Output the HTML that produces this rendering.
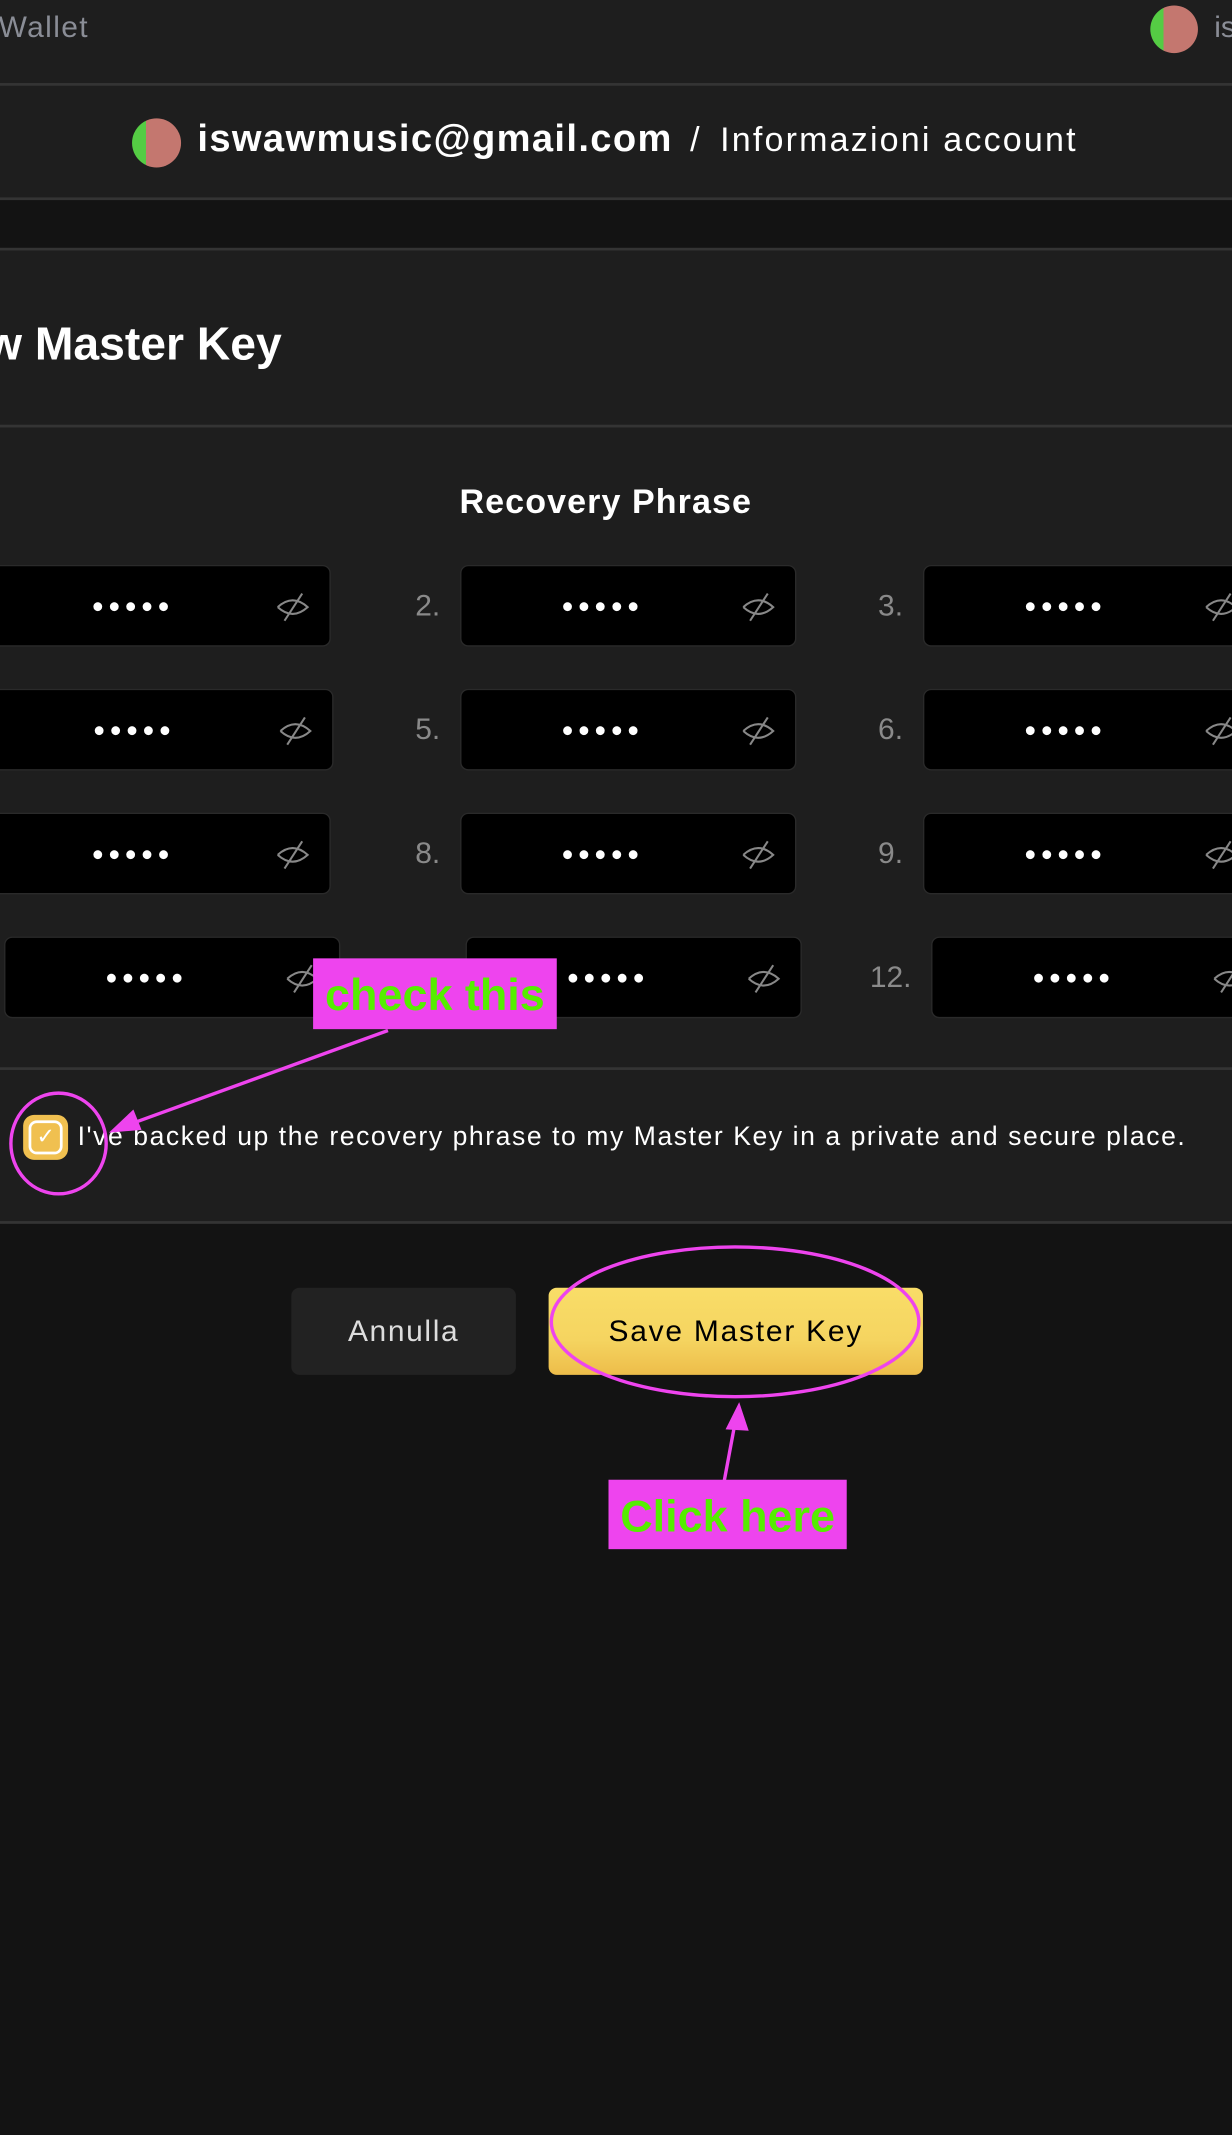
<!DOCTYPE html>
<html><head><meta charset="utf-8"><style>
html,body{margin:0;padding:0;width:1232px;height:2134px;overflow:hidden;background:#131313;font-family:"Liberation Sans",sans-serif}
#w{position:absolute;left:0;top:0;width:905px;height:1568px;transform:scale(1.3613);transform-origin:0 0;background:#131313;overflow:hidden}
.a{position:absolute}
.ln{position:absolute;left:0;width:905px;height:2px;background:#343434}
.box{position:absolute;height:60px;background:#000;border:1px solid #2a2a2a;border-radius:6px;box-sizing:border-box}
.dots{position:absolute;top:0;left:0;width:100%;padding-right:38px;box-sizing:border-box;line-height:60px;text-align:center;color:#fff;font-size:15px;letter-spacing:3px}
.eye{position:absolute;top:18px;right:14px}
.num{position:absolute;color:#8a8a8a;font-size:22px}
.av{position:absolute;border-radius:50%;background:linear-gradient(90deg,#55cc44 0 28%,#c4776f 28%)}
</style></head><body><div id="w">
<div class="a" style="left:0;top:0;width:905px;height:146px;background:#1e1e1e"></div>
<div class="a" style="left:0;top:184px;width:905px;height:601px;background:#1e1e1e"></div>
<div class="a" style="left:0;top:786px;width:905px;height:112px;background:#1e1e1e"></div>
<div class="ln" style="top:61px"></div><div class="ln" style="top:145px"></div><div class="ln" style="top:182px"></div><div class="ln" style="top:312px"></div><div class="ln" style="top:784px"></div><div class="ln" style="top:897px"></div>
<div class="a" style="left:-1px;top:7px;font-size:22px;color:#8a8d96;letter-spacing:1px">Wallet</div>
<div class="av" style="left:845px;top:4px;width:35px;height:35px"></div>
<div class="a" style="left:892px;top:7px;font-size:22px;color:#8a8d96">is</div>
<div class="av" style="left:97px;top:87px;width:36px;height:36px"></div>
<div class="a" style="left:145px;top:86px;font-size:28px;font-weight:bold;color:#fff;white-space:nowrap;letter-spacing:1px">iswawmusic@gmail.com</div>
<div class="a" style="left:507px;top:89px;font-size:25px;color:#fff;white-space:nowrap">/</div>
<div class="a" style="left:529px;top:89px;font-size:25px;color:#fff;white-space:nowrap;letter-spacing:1.6px">Informazioni account</div>
<div class="a" style="right:698px;top:234px;font-size:34px;font-weight:bold;color:#fff;white-space:nowrap">New Master Key</div>
<div class="a" style="left:0;width:890px;text-align:center;top:355px;font-size:25px;font-weight:bold;color:#fff;letter-spacing:0.8px">Recovery Phrase</div>

<svg width="0" height="0" style="position:absolute"><defs><g id="e"><path d="M2 12 Q13 2 24 12 Q13 22 2 12" fill="none" stroke="#888" stroke-width="1.5"/><line x1="7" y1="22" x2="20" y2="2" stroke="#888" stroke-width="1.5"/></g></defs></svg>

<div class="box" style="left:-10px;top:415px;width:253px"><div class="dots">●●●●●</div><svg class="eye" width="26" height="24"><use href="#e"/></svg></div>
<div class="num" style="left:305px;top:432px">2.</div>
<div class="box" style="left:338px;top:415px;width:247px"><div class="dots">●●●●●</div><svg class="eye" width="26" height="24"><use href="#e"/></svg></div>
<div class="num" style="left:645px;top:432px">3.</div>
<div class="box" style="left:678px;top:415px;width:247px"><div class="dots">●●●●●</div><svg class="eye" width="26" height="24"><use href="#e"/></svg></div>

<div class="box" style="left:-10px;top:506px;width:255px"><div class="dots">●●●●●</div><svg class="eye" width="26" height="24"><use href="#e"/></svg></div>
<div class="num" style="left:305px;top:523px">5.</div>
<div class="box" style="left:338px;top:506px;width:247px"><div class="dots">●●●●●</div><svg class="eye" width="26" height="24"><use href="#e"/></svg></div>
<div class="num" style="left:645px;top:523px">6.</div>
<div class="box" style="left:678px;top:506px;width:247px"><div class="dots">●●●●●</div><svg class="eye" width="26" height="24"><use href="#e"/></svg></div>

<div class="box" style="left:-10px;top:597px;width:253px"><div class="dots">●●●●●</div><svg class="eye" width="26" height="24"><use href="#e"/></svg></div>
<div class="num" style="left:305px;top:614px">8.</div>
<div class="box" style="left:338px;top:597px;width:247px"><div class="dots">●●●●●</div><svg class="eye" width="26" height="24"><use href="#e"/></svg></div>
<div class="num" style="left:645px;top:614px">9.</div>
<div class="box" style="left:678px;top:597px;width:247px"><div class="dots">●●●●●</div><svg class="eye" width="26" height="24"><use href="#e"/></svg></div>

<div class="box" style="left:3px;top:688px;width:247px"><div class="dots">●●●●●</div><svg class="eye" width="26" height="24"><use href="#e"/></svg></div>
<div class="box" style="left:342px;top:688px;width:247px"><div class="dots">●●●●●</div><svg class="eye" width="26" height="24"><use href="#e"/></svg></div>
<div class="num" style="left:639px;top:705px">12.</div>
<div class="box" style="left:684px;top:688px;width:247px"><div class="dots">●●●●●</div><svg class="eye" width="26" height="24"><use href="#e"/></svg></div>

<div class="a" style="left:17px;top:819px;width:33px;height:33px;border-radius:8px;background:#f0c050"></div>
<div class="a" style="left:21px;top:823px;width:21px;height:21px;border:2px solid #fff;border-radius:6px;color:#fff;font-size:16px;line-height:21px;text-align:center">✓</div>
<div class="a" style="left:57px;top:824px;font-size:19.5px;color:#fff;white-space:nowrap;letter-spacing:1.15px">I've backed up the recovery phrase to my Master Key in a private and secure place.</div>

<div class="a" style="left:214px;top:946px;width:165px;height:64px;border-radius:6px;background:#222;color:#ddd;font-size:22px;line-height:64px;text-align:center;letter-spacing:1.2px">Annulla</div>
<div class="a" style="left:403px;top:946px;width:275px;height:64px;border-radius:6px;background:linear-gradient(#f9dd68 0%,#f5d460 60%,#edbd4a 100%);color:#000;font-size:22px;line-height:64px;text-align:center;letter-spacing:1.3px">Save Master Key</div>

<svg class="a" style="left:0;top:0" width="905" height="1568">
<ellipse cx="43" cy="840" rx="35" ry="37" fill="none" stroke="#ee44ee" stroke-width="2.5"/>
<ellipse cx="540" cy="971" rx="135" ry="55" fill="none" stroke="#ee44ee" stroke-width="2.5"/>
<line x1="285" y1="757" x2="95" y2="826" stroke="#ee44ee" stroke-width="2.5"/>
<polygon points="80,832 98,815 104,830" fill="#ee44ee"/>
<line x1="532" y1="1088" x2="540" y2="1045" stroke="#ee44ee" stroke-width="2.5"/>
<polygon points="543,1030 533,1050 550,1051" fill="#ee44ee"/>
</svg>
<div class="a" style="left:230px;top:704px;width:179px;height:52px;background:#ee44ee;color:#55ee00;font-size:33px;font-weight:bold;line-height:54px;text-align:center;white-space:nowrap">check this</div>
<div class="a" style="left:447px;top:1087px;width:175px;height:51px;background:#ee44ee;color:#55ee00;font-size:33px;font-weight:bold;line-height:54px;text-align:center;white-space:nowrap">Click here</div>
</div></body></html>
